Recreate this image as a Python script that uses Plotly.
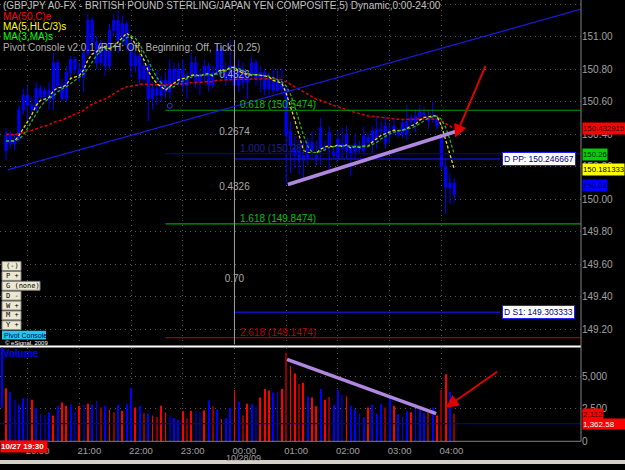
import pandas as pd
import plotly.graph_objects as go

# ---------------- data ----------------
start_time = "2009-10-27 19:35"

opens = [150.30, 150.40, 150.34, 150.37, 150.55, 150.64, 150.58, 150.55, 150.68, 150.63,
         150.67, 150.62, 150.84, 150.70, 150.62, 150.78, 150.86, 150.80, 150.75, 150.90,
         151.10, 150.97, 150.84, 150.95, 150.82, 151.04, 151.10, 150.98, 151.08, 150.95,
         150.82, 150.88, 150.74, 150.82, 150.62, 150.68, 150.64, 150.73, 150.66, 150.80,
         150.72, 150.80, 150.70, 150.76, 150.84, 150.72, 150.77, 150.82, 150.70, 150.78,
         150.92, 150.78, 150.74, 150.82, 150.70, 150.80, 150.72, 150.76, 150.84, 150.74,
         150.78, 150.68, 150.75, 150.67, 150.72, 150.68, 150.42, 150.31, 150.29, 150.24,
         150.26, 150.35, 150.27, 150.31, 150.33, 150.33, 150.29, 150.26, 150.34, 150.30,
         150.33, 150.29, 150.33, 150.30, 150.38, 150.34, 150.37, 150.43, 150.34, 150.42,
         150.41, 150.41, 150.40, 150.40, 150.48, 150.47, 150.51, 150.52, 150.51, 150.49,
         150.50, 150.38, 150.20, 150.07, 150.10]
highs = [150.44, 150.42, 150.40, 150.58, 150.68, 150.70, 150.63, 150.72, 150.70, 150.69,
         150.72, 150.90, 150.86, 150.74, 150.82, 150.88, 150.88, 150.84, 150.93, 151.14,
         151.12, 151.00, 150.98, 150.97, 151.08, 151.14, 151.16, 151.13, 151.10, 151.00,
         150.92, 150.90, 150.86, 150.84, 150.72, 150.80, 150.76, 150.78, 150.86, 150.84,
         150.84, 150.86, 150.78, 150.90, 150.88, 150.80, 150.86, 150.84, 150.82, 150.96,
         150.94, 150.84, 150.98, 150.90, 150.86, 150.84, 150.80, 150.88, 150.86, 150.82,
         150.80, 150.78, 150.80, 150.80, 150.81, 150.70, 150.48, 150.39, 150.37, 150.36,
         150.38, 150.42, 150.36, 150.50, 150.36, 150.45, 150.33, 150.42, 150.44, 150.45,
         150.33, 150.40, 150.36, 150.45, 150.41, 150.45, 150.51, 150.48, 150.51, 150.47,
         150.50, 150.43, 150.49, 150.58, 150.52, 150.55, 150.58, 150.57, 150.55, 150.60,
         150.52, 150.39, 150.25, 150.16, 150.13]
lows = [150.24, 150.31, 150.30, 150.35, 150.52, 150.46, 150.49, 150.54, 150.60, 150.60,
        150.55, 150.55, 150.66, 150.60, 150.60, 150.74, 150.77, 150.72, 150.66, 150.88,
        150.94, 150.80, 150.82, 150.76, 150.80, 151.00, 150.90, 150.95, 150.92, 150.75,
        150.78, 150.70, 150.72, 150.48, 150.55, 150.58, 150.60, 150.62, 150.62, 150.68,
        150.70, 150.66, 150.62, 150.74, 150.68, 150.64, 150.72, 150.66, 150.68, 150.76,
        150.74, 150.70, 150.72, 150.66, 150.66, 150.68, 150.62, 150.74, 150.70, 150.66,
        150.64, 150.64, 150.65, 150.66, 150.64, 150.09, 150.16, 150.19, 150.15, 150.13,
        150.21, 150.24, 150.21, 150.21, 150.29, 150.18, 150.25, 150.23, 150.25, 150.25,
        150.14, 150.25, 150.28, 150.27, 150.32, 150.28, 150.31, 150.39, 150.31, 150.34,
        150.39, 150.38, 150.38, 150.36, 150.45, 150.41, 150.48, 150.50, 150.43, 150.47,
        150.43, 150.18, 149.91, 149.97, 149.98]
closes = [150.40, 150.34, 150.37, 150.55, 150.64, 150.58, 150.55, 150.68, 150.63, 150.67,
          150.62, 150.84, 150.70, 150.62, 150.78, 150.86, 150.80, 150.75, 150.90, 151.10,
          150.97, 150.84, 150.95, 150.82, 151.04, 151.10, 150.98, 151.08, 150.95, 150.82,
          150.88, 150.74, 150.82, 150.62, 150.68, 150.64, 150.73, 150.66, 150.80, 150.72,
          150.80, 150.70, 150.76, 150.84, 150.72, 150.77, 150.82, 150.70, 150.78, 150.92,
          150.78, 150.74, 150.82, 150.70, 150.80, 150.72, 150.76, 150.84, 150.74, 150.78,
          150.68, 150.75, 150.67, 150.72, 150.68, 150.39, 150.33, 150.27, 150.24, 150.27,
          150.35, 150.30, 150.24, 150.44, 150.31, 150.41, 150.27, 150.37, 150.31, 150.40,
          150.28, 150.34, 150.31, 150.39, 150.35, 150.42, 150.43, 150.42, 150.45, 150.40,
          150.45, 150.40, 150.47, 150.48, 150.50, 150.51, 150.54, 150.53, 150.48, 150.51,
          150.45, 150.20, 150.07, 150.10, 150.03]
volumes = [4070, 3810, 3180, 2800, 3310, 3360, 3180, 2550, 2100, 2000,
           2220, 1970, 2730, 2980, 2730, 2800, 2220, 2680, 2800, 2880,
           2800, 3110, 2600, 2730, 2420, 2220, 2800, 2350, 2850, 4070,
           2600, 2730, 2150, 2120, 1970, 1870, 2730, 2220, 1970, 1790,
           1620, 2300, 1740, 2350, 2300, 2220, 2370, 3130, 2680, 2420,
           1720, 1790, 2550, 3940, 3060, 1970, 2880, 2850, 2680, 3360,
           4020, 3890, 3740, 3810, 4020, 6800, 5780, 5200, 4390, 4490,
           3440, 3360, 2680, 4020, 3180, 3390, 2800, 3940, 3560, 3440,
           2730, 2470, 2120, 1840, 2600, 2800, 2120, 2880, 2600, 3390,
           2730, 2100, 1870, 2300, 2220, 2470, 2420, 2170, 2420, 2600,
           1970, 3940, 5150, 3810, 2112]
# R = down tick, r = down tick (lower volume), B = up tick, b = up tick (lower volume)
vol_codes = list("RBbBBBRBBbBRBRRBbRbRBBrBRrBRBBRBrBRrRRbBBRrRbbRBrB"
                 "RBBRBrRBbRRRBBRrRRrRBRRBRrBBbRBBBBRBBBrBRBBBRBBBrBRrRBr")

price_ticks = [149.2, 149.4, 149.6, 149.8, 150.0, 150.2, 150.4, 150.6, 150.8, 151.0, 151.2]
price_tick_labels = ["149.20", "149.40", "149.60", "149.80", "150.00", "150.20",
                     "150.40", "150.60", "150.80", "151.00", "151.20"]
hour_ticks = ["2009-10-27 20:00", "2009-10-27 21:00", "2009-10-27 22:00", "2009-10-27 23:00",
              "2009-10-28 00:00", "2009-10-28 01:00", "2009-10-28 02:00", "2009-10-28 03:00",
              "2009-10-28 04:00"]
hour_labels = ["20:00", "21:00", "22:00", "23:00", "00:00",
               "01:00", "02:00", "03:00", "04:00"]
date_label = "10/28/09"
vol_ticks = [0, 2500, 5000]
vol_tick_labels = ["0", "2,500", "5,000"]

# fibonacci / pivot levels
fib_levels = [150.5474, 150.28, 149.8474, 149.1474]
fib_labels = ["0.618 (150.5474)", "1.000 (150.28)", "1.618 (149.8474)", "2.618 (149.1474)"]
fib_top = 150.98
fib_gap_labels = ["0.4326", "0.2674", "0.4326", "0.70"]
pivot_pp = 150.246667
pivot_s1 = 149.303333
last_ma50 = 150.432915
last_ma3 = "150.26"
last_ma5 = "150.181333"
last_price = "150.03"
last_volume = "2,112"
avg_volume = 1362.58

fib_start = "2009-10-27 22:40"
fib_anchor = "2009-10-28 00:00"
pivot_end = "2009-10-28 05:08"
trend_blue = [("2009-10-27 19:37", 150.18), ("2009-10-28 06:42", 151.17)]
trend_purple_price = [("2009-10-28 01:02", 150.09), ("2009-10-28 04:25", 150.43)]
trend_purple_vol = [("2009-10-28 01:01", 6290), ("2009-10-28 03:54", 2120)]
arrow_price_head = ("2009-10-28 04:16", 150.38)
arrow_vol_head = ("2009-10-28 04:05", 2576)

# ---------------- derived ----------------
times = pd.date_range(pd.Timestamp(start_time), periods=len(closes), freq="5min")
df = pd.DataFrame({"o": opens, "h": highs, "l": lows, "c": closes}, index=times)
ma50 = df["c"].ewm(span=50, adjust=False).mean()
hlc3 = (df["h"] + df["l"] + df["c"]) / 3
ma5 = hlc3.rolling(5, min_periods=1).mean()
ma3 = ma5.rolling(3, min_periods=1).mean()
code_color = {"R": "#ff0000", "r": "#8b0000", "B": "#0000ff", "b": "#00008b"}
vol_colors = [code_color[c] for c in vol_codes]

W, H = 625, 470
PLOT_R = 581
PRICE_BOT = 349
VOL_TOP, VOL_BOT = 353, 447
FONT = "Liberation Sans Narrow, Arial Narrow, Liberation Sans, sans-serif"
GRID = "#5a5a5a"

t0 = pd.Timestamp(start_time)
x_range = [t0 - pd.Timedelta(minutes=6.96), t0 + pd.Timedelta(minutes=667)]
p_range = [149.1046, 151.2261]
v_range = [0, 7121]

fig = go.Figure()

gap_y = [150.764, 150.41, 150.07, 149.505]
fig.add_trace(go.Scatter(x=[fib_anchor] * 4, y=gap_y, mode="text", text=fib_gap_labels,
                         textfont=dict(family=FONT, size=10, color="#a8a8a8"),
                         xaxis="x", yaxis="y", hoverinfo="skip"))

fig.add_trace(go.Candlestick(
    x=times, open=opens, high=highs, low=lows, close=closes,
    increasing=dict(line=dict(color="#0000ff", width=1), fillcolor="#0000ff"),
    decreasing=dict(line=dict(color="#0000ff", width=1), fillcolor="#0000ff"),
    whiskerwidth=0, xaxis="x", yaxis="y"))

fig.add_trace(go.Scatter(x=[pd.Timestamp("2009-10-27 22:45")], y=[150.575], mode="markers",
                         marker=dict(symbol="circle-open", size=5, color="#3030ff"),
                         xaxis="x", yaxis="y"))

fig.add_trace(go.Scatter(x=times, y=ma50, mode="lines",
                         line=dict(color="#e00000", width=1.5, dash="3px,2px"), xaxis="x", yaxis="y"))
fig.add_trace(go.Scatter(x=times, y=ma5, mode="lines",
                         line=dict(color="#f0e000", width=1.3, dash="3px,2px"), xaxis="x", yaxis="y"))
fig.add_trace(go.Scatter(x=times, y=ma3, mode="lines",
                         line=dict(color="#20b020", width=1.3, dash="3px,2px"), xaxis="x", yaxis="y"))

fig.add_trace(go.Bar(x=times, y=volumes, marker=dict(color=vol_colors, line=dict(width=0)),
                     width=60000, xaxis="x2", yaxis="y2"))

shapes = []
fib_colors = ["#00a000", "#000090", "#00a000", "#a00000"]
for lvl, col in zip(fib_levels, fib_colors):
    shapes.append(dict(type="line", xref="x", yref="y", x0=fib_start, x1=x_range[1],
                       y0=lvl, y1=lvl, line=dict(color=col, width=1.2)))
for lvl in (pivot_pp, pivot_s1):
    shapes.append(dict(type="line", xref="x", yref="y", x0=fib_anchor, x1=pivot_end,
                       y0=lvl, y1=lvl, line=dict(color="#1010c0", width=1.5)))
shapes.append(dict(type="line", xref="x", yref="y", x0=fib_anchor, x1=fib_anchor,
                   y0=fib_top, y1=p_range[0], line=dict(color="#a0a0a0", width=1)))
shapes.append(dict(type="line", xref="x", yref="y", x0=trend_blue[0][0], y0=trend_blue[0][1],
                   x1=trend_blue[1][0], y1=trend_blue[1][1], line=dict(color="#1a1ae0", width=1.2)))
shapes.append(dict(type="line", xref="x", yref="y", x0=trend_purple_price[0][0], y0=trend_purple_price[0][1],
                   x1=trend_purple_price[1][0], y1=trend_purple_price[1][1],
                   line=dict(color="#b088e0", width=3.5)))
shapes.append(dict(type="line", xref="x2", yref="y2", x0=trend_purple_vol[0][0], y0=trend_purple_vol[0][1],
                   x1=trend_purple_vol[1][0], y1=trend_purple_vol[1][1],
                   line=dict(color="#b088e0", width=3.5)))
shapes.append(dict(type="line", xref="x2 domain", yref="y2", x0=0, x1=1, y0=avg_volume, y1=avg_volume,
                   line=dict(color="#0000a0", width=1.2)))
shapes.append(dict(type="rect", xref="paper", yref="paper", x0=0, x1=PLOT_R / W,
                   y0=1 - 352 / H, y1=1 - 350 / H, fillcolor="#ffffff", line=dict(width=0)))
shapes.append(dict(type="line", xref="paper", yref="paper", x0=PLOT_R / W, x1=PLOT_R / W,
                   y0=1 - VOL_BOT / H, y1=1, line=dict(color="#808080", width=1)))
shapes.append(dict(type="line", xref="paper", yref="paper", x0=0, x1=PLOT_R / W,
                   y0=1 - VOL_BOT / H, y1=1 - VOL_BOT / H, line=dict(color="#808080", width=1)))
shapes.append(dict(type="line", xref="paper", yref="paper", x0=2 / W, x1=2 / W,
                   y0=1 - 413 / H, y1=1 - 352 / H, line=dict(color="#0000ff", width=2)))
shapes.append(dict(type="rect", xref="paper", yref="paper", x0=0, x1=1,
                   y0=0, y1=4 / H, fillcolor="#d4d0c8", line=dict(width=0)))

buttons = ["(-)", "P +", "G (none)", "D -", "W +", "M +", "Y +"]
for k, b in enumerate(buttons):
    top = 265 + 10 * k
    right = 40 if b == "G (none)" else 21
    shapes.append(dict(type="rect", xref="paper", yref="paper", x0=2 / W, x1=right / W,
                       y0=1 - (top + 9) / H, y1=1 - top / H, fillcolor="#ece9d0",
                       line=dict(color="#808080", width=1)))
shapes.append(dict(type="rect", xref="paper", yref="paper", x0=2 / W, x1=46 / W,
                   y0=1 - 344 / H, y1=1 - 335 / H, fillcolor="#20c8f0", line=dict(width=0)))

ann = []


def txt(x, y, s, color, size=10, xanchor="left", yanchor="middle", family=FONT, **kw):
    ann.append(dict(x=x / W, y=1 - y / H, xref="paper", yref="paper", text=s, showarrow=False,
                    font=dict(family=family, size=size, color=color), xanchor=xanchor,
                    yanchor=yanchor, borderpad=0, **kw))


for k, b in enumerate(buttons):
    txt(5, 265 + 10 * k + 4.5, b, "#000000", size=7, family="DejaVu Sans Mono")
txt(3, 339.5, "Pivot Console", "#000060", size=7)
txt(4, 347, "© eSignal, 2009", "#ffffff", size=6)

txt(2, 6, "(GBPJPY A0-FX - BRITISH POUND STERLING/JAPAN YEN COMPOSITE,5) Dynamic,0:00-24:00", "#c0c0c0")
txt(2, 17, "MA(50,C)e", "#ff0000")
txt(2, 27, "MA(5,HLC/3)s", "#ffff00")
txt(2, 37, "MA(3,MA)s", "#00ff00")
txt(2, 48, "Pivot Console v2.0.1 (RTH: Off, Beginning: Off, Tick: 0.25)", "#b0b0b0")
txt(2, 358, "<b>Volume</b>", "#0000ff", size=10)

lab_cols = ["#00c000", "#202090", "#00c000", "#b00000"]
for lvl, s, col in zip(fib_levels, fib_labels, lab_cols):
    ann.append(dict(x=fib_anchor, y=lvl, xref="x", yref="y", text=s, showarrow=False,
                    font=dict(family=FONT, size=10, color=col), xanchor="left", yanchor="bottom",
                    xshift=4, yshift=-2))
for lvl, s in ((pivot_pp, "D PP: %.6f" % pivot_pp), (pivot_s1, "D S1: %.6f" % pivot_s1)):
    ann.append(dict(x=pivot_end, y=lvl, xref="x", yref="y", text=s, showarrow=False,
                    font=dict(family=FONT, size=8.5, color="#000080"), xanchor="left", yanchor="middle",
                    bgcolor="#ffffff", bordercolor="#2020ff", borderwidth=1, borderpad=1, xshift=2))
# right-side value boxes: (value, text, background, text colour, y shift)
price_boxes = ((last_ma50, "%.6f" % last_ma50, "#ff0000", "#200000", 0),
               (float(last_ma3), last_ma3, "#00d000", "#002000", 2),
               (float(last_ma5), last_ma5, "#ffff00", "#000000", 0),
               (float(last_price), last_price, "#0000ff", "#000030", 9))
for val, s, bg, fc, ysh in price_boxes:
    d = dict(x=582 / W, y=val, xref="paper", yref="y", text=s, showarrow=False,
             font=dict(family=FONT, size=7.8, color=fc), xanchor="left", yanchor="middle",
             bgcolor=bg, borderpad=0, height=11)
    if ysh:
        d["yshift"] = ysh
    ann.append(d)
vol_boxes = ((float(last_volume.replace(",", "")), last_volume, "#ff0000", "#300000", None),
             (avg_volume, "{:,.2f}".format(avg_volume), "#ff0000", "#ffffff", 43))
for val, s, bg, fc, wid in vol_boxes:
    d = dict(x=582 / W, y=val, xref="paper", yref="y2", text=s, showarrow=False,
             font=dict(family=FONT, size=8, color=fc), xanchor="left", yanchor="middle",
             bgcolor=bg, borderpad=0, align="left", height=10)
    if wid:
        d["width"] = wid
    ann.append(d)
ann.append(dict(x=arrow_price_head[0], y=arrow_price_head[1], xref="x", yref="y", ax=31, ay=-73,
                showarrow=True, arrowhead=2, arrowsize=1.3, arrowwidth=2, arrowcolor="#e00000", text=""))
ann.append(dict(x=arrow_vol_head[0], y=arrow_vol_head[1], xref="x2", yref="y2", ax=53, ay=-37,
                showarrow=True, arrowhead=2, arrowsize=1.3, arrowwidth=2, arrowcolor="#e00000", text=""))
ann.append(dict(x=fib_anchor, y=0, xref="x2", yref="paper", text=date_label, showarrow=False,
                font=dict(family=FONT, size=9, color="#a0a0a0"), xanchor="center", yanchor="middle",
                xshift=9, yshift=6))
txt(0, 452.5, "<b>10/27 19:30</b>", "#ffffff", size=8, bgcolor="#ff0000", width=46, height=11,
    align="left")

axis_font = dict(family=FONT, size=10, color="#a0a0a0")
fig.update_layout(
    width=W, height=H, margin=dict(l=0, r=0, t=0, b=0),
    paper_bgcolor="#000000", plot_bgcolor="#000000", showlegend=False,
    shapes=shapes, annotations=ann,
    xaxis=dict(domain=[0, PLOT_R / W], anchor="y", range=x_range, matches="x2",
               showticklabels=False, tickvals=hour_ticks, ticks="", showgrid=True,
               gridcolor=GRID, griddash="1px,4px", gridwidth=1, zeroline=False,
               rangeslider=dict(visible=False)),
    yaxis=dict(domain=[1 - PRICE_BOT / H, 1], range=p_range, side="right", anchor="x",
               tickvals=price_ticks, ticktext=price_tick_labels, tickfont=axis_font, ticks="",
               showgrid=True, gridcolor=GRID, griddash="1px,4px", zeroline=False),
    xaxis2=dict(domain=[0, PLOT_R / W], anchor="y2", range=x_range, tickvals=hour_ticks,
                ticktext=hour_labels, ticklabelshift=10, ticklabelstandoff=2,
                tickfont=dict(family=FONT, size=9.5, color="#a0a0a0"),
                ticks="", showgrid=True, gridcolor=GRID, griddash="1px,4px", zeroline=False,
                rangeslider=dict(visible=False)),
    yaxis2=dict(domain=[1 - VOL_BOT / H, 1 - VOL_TOP / H], range=v_range, side="right", anchor="x2",
                tickvals=vol_ticks, ticktext=vol_tick_labels, tickfont=axis_font, ticks="",
                showgrid=True, gridcolor=GRID, griddash="1px,4px", zeroline=False),
)

fig.write_html("out.html")
